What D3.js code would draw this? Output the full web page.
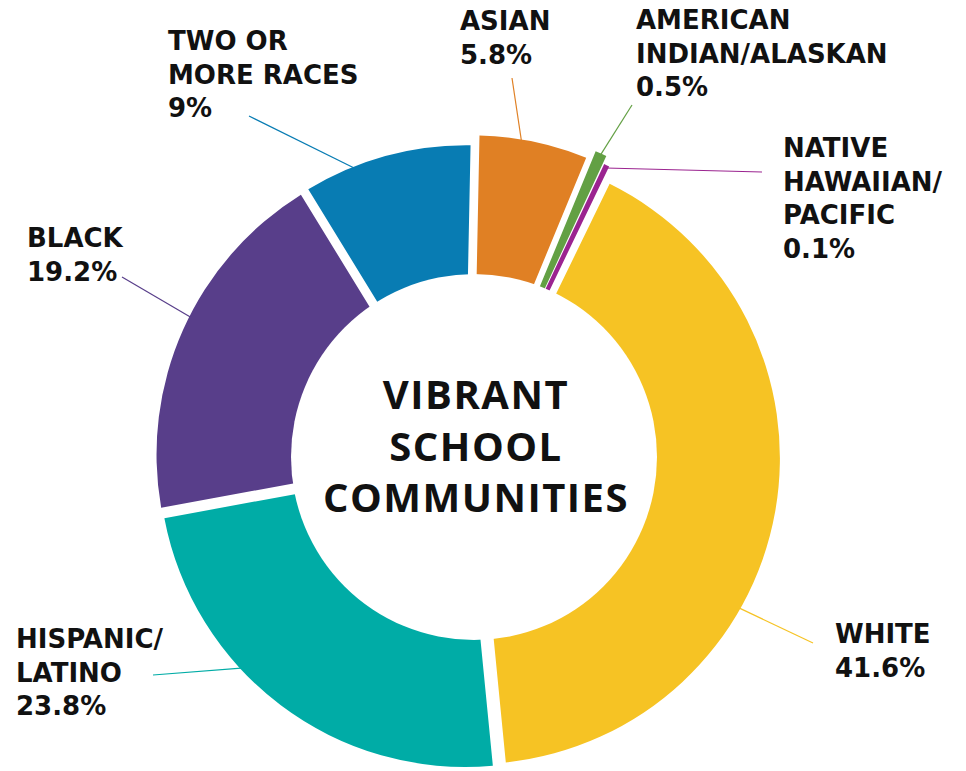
<!DOCTYPE html>
<html>
<head>
<meta charset="utf-8">
<script src="https://cdn.jsdelivr.net/npm/d3@7"></script>
<style>
  body { margin: 0; background: #fff; }
  svg { display: block; }
  .lbl { font-family: "DejaVu Sans", sans-serif; font-weight: bold; font-size: 26px; fill: #111; }
  .title { font-family: "Open Sans", "Noto Sans", sans-serif; font-weight: bold; font-size: 40px; fill: #111; }
</style>
</head>
<body>
<svg id="chart" width="966" height="771"></svg>
<script>
// data, in drawing order (clockwise from top-left)
const groups = ["Two or more races", "Asian", "American Indian/Alaskan", "Native Hawaiian/Pacific", "White", "Hispanic/Latino", "Black"];
const shares = [9, 5.8, 0.5, 0.1, 41.6, 23.8, 19.2];
const nameLines = [["TWO OR", "MORE RACES"], ["ASIAN"], ["AMERICAN", "INDIAN/ALASKAN"], ["NATIVE", "HAWAIIAN/", "PACIFIC"], ["WHITE"], ["HISPANIC/", "LATINO"], ["BLACK"]];
const colors = ["#087cb3", "#e08024", "#63a044", "#9b2490", "#f6c324", "#00aca6", "#583e8a"];
const titleLines = ["VIBRANT", "SCHOOL", "COMMUNITIES"];

// layout
const cx = 468, cy = 457, R = 306;
const startDeg = -31.5;
const explode = [6, 16, 24, 15, 6, 5, 6];
const labelPos = [[168, 50], [460, 30], [636, 29], [783, 157], [835, 643], [16, 648], [27, 247]];
const leaderEnd = [[249, 116], [512, 78], [632, 105], [762, 172], [813, 643], [153, 675], [122, 277]];
const leaderFrac = [0.3, 0.39, 0.5, 0.5, 0.63, 0.62, 0.54];
const lineGap = 33.5;

const svg = d3.select("#chart");
svg.append("rect").attr("width", 966).attr("height", 771).attr("fill", "#fff");

const a0 = startDeg * Math.PI / 180;
const pie = d3.pie().sort(null).value(d => d)
  .startAngle(a0).endAngle(a0 + 2 * Math.PI)
  .padAngle(0.012);
const arcs = pie(shares);

const arc = d3.arc().innerRadius(140).outerRadius(R).padRadius(340);

// shift of each slice along its bisector
function shift(d, i) {
  let mid = (d.startAngle + d.endAngle) / 2;
  return [explode[i] * Math.sin(mid), -explode[i] * Math.cos(mid)];
}

const slices = svg.append("g").attr("transform", `translate(${cx},${cy})`);
slices.selectAll("path")
  .data(arcs)
  .join("path")
    .attr("d", arc)
    .attr("fill", (d, i) => colors[i])
    // the tiny slices get an outline so they stay visible
    .attr("stroke", (d, i) => d.value < 1 ? colors[i] : "none")
    .attr("stroke-width", d => d.value < 0.3 ? 4 : 2.5)
    .attr("stroke-linejoin", "miter")
    .attr("transform", (d, i) => {
      let s = shift(d, i);
      return `translate(${s[0]},${s[1]})`;
    });

// hole in the middle
svg.append("circle")
  .attr("cx", 474).attr("cy", 457).attr("r", 183)
  .attr("fill", "#fff");

// leader lines
svg.append("g").selectAll("line")
  .data(arcs)
  .join("line")
    .attr("x1", (d, i) => {
      let ang = d.startAngle + leaderFrac[i] * (d.endAngle - d.startAngle);
      return cx + shift(d, i)[0] + d3.pointRadial(ang, R - 1)[0];
    })
    .attr("y1", (d, i) => {
      let ang = d.startAngle + leaderFrac[i] * (d.endAngle - d.startAngle);
      return cy + shift(d, i)[1] + d3.pointRadial(ang, R - 1)[1];
    })
    .attr("x2", (d, i) => leaderEnd[i][0])
    .attr("y2", (d, i) => leaderEnd[i][1])
    .attr("stroke", (d, i) => colors[i])
    .attr("stroke-width", 1.2);

// labels
const labels = svg.append("g").selectAll("text")
  .data(groups)
  .join("text")
    .attr("class", "lbl")
    .attr("x", (d, i) => labelPos[i][0])
    .attr("y", (d, i) => labelPos[i][1]);

labels.each(function(d, i) {
  let t = d3.select(this);
  let lines = nameLines[i].concat([shares[i] + "%"]);
  lines.forEach((s, k) => {
    t.append("tspan")
      .attr("x", labelPos[i][0])
      .attr("y", labelPos[i][1] + k * lineGap)
      .text(s);
  });
});

// centre title
svg.append("g").selectAll("text")
  .data(titleLines)
  .join("text")
    .attr("class", "title")
    .attr("text-anchor", "middle")
    .attr("letter-spacing", 1.5)
    .attr("x", 476)
    .attr("y", (d, i) => 409 + i * 51.5)
    .text(d => d);
</script>
</body>
</html>
